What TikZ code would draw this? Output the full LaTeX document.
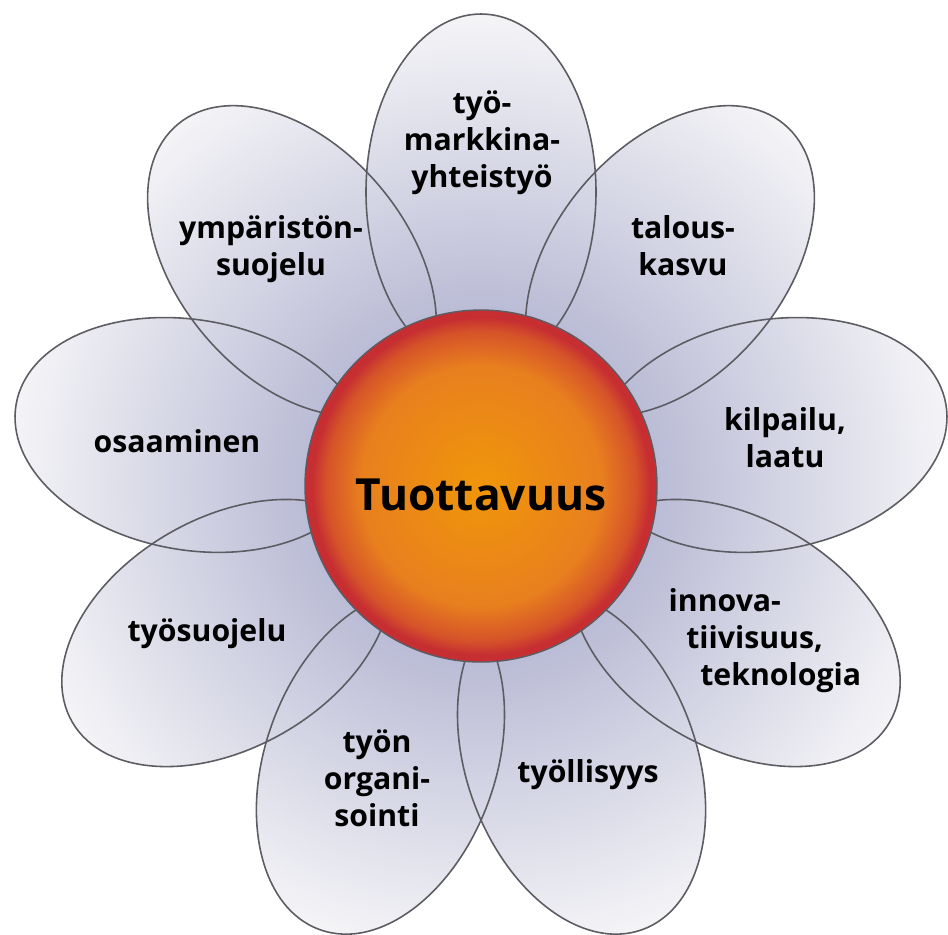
\documentclass[tikz,border=0pt]{standalone}
\usepackage{fontspec}
\setmainfont{Open Sans}
\definecolor{petalin}{RGB}{186,187,213}
\definecolor{petalout}{RGB}{246,246,248}
\definecolor{petalline}{RGB}{92,92,98}
\definecolor{hubcore}{RGB}{240,150,10}
\definecolor{hubmid}{RGB}{232,128,30}
\definecolor{hubrim}{RGB}{198,46,50}
\pgfdeclareradialshading{petalglow}{\pgfpoint{0bp}{0bp}}{color(0bp)=(petalin); color(9bp)=(petalin); color(17bp)=(petalin!50!petalout); color(25bp)=(petalout); color(50bp)=(petalout)}
\pgfdeclareradialshading{hubglow}{\pgfpoint{0bp}{0bp}}{color(0bp)=(hubcore); color(17bp)=(hubmid); color(22bp)=(hubrim!55!hubmid); color(24bp)=(hubrim); color(50bp)=(hubrim)}
\begin{document}
\begin{tikzpicture}[
    petal/.style={draw=petalline, line width=0.45pt},
    hub/.style={circle, draw=petalline, line width=0.4pt, shade, shading=hubglow, minimum size=3.52cm, inner sep=0pt},
    hubtext/.style={font=\fontsize{12.6}{15}\selectfont\bfseries, inner sep=0pt},
    petaltext/.style={font=\fontsize{8.6}{10.5}\selectfont\bfseries, align=center, inner sep=0pt}
  ]
  \useasboundingbox (-4.81,-4.48) rectangle (4.67,4.86);
  % pétalos
  \begin{scope}
    \clip \foreach \a in {90,50,...,-230} { (\a:2.94) circle [x radius=1.78, y radius=1.15, rotate=\a] };
    \shade[shading=petalglow] (0,0) circle (4.8);
  \end{scope}
  \foreach \a in {90,50,...,-230}
    \draw[petal] (\a:2.94) circle [x radius=1.78, y radius=1.15, rotate=\a];
  % centro
  \node[hub] (hub) at (0,0) {};
  \node[hubtext] (title) at ([yshift=-0.085cm]hub.center) {Tuottavuus};
  % etiquetas
  \node[petaltext] (markkina) at (0.01,3.43) {työ-\\markkina-\\yhteistyö};
  \node[petaltext] (ymparisto) at (-2.10,2.37) {ympäristön-\\suojelu};
  \node[petaltext] (talous) at (2.02,2.40) {talous-\\kasvu};
  \node[petaltext] (kilpailu) at (3.04,0.48) {kilpailu,\\laatu};
  \node[petaltext, anchor=west, align=left] (innovaatio) at (1.87,-1.55) {innova-\\\hspace{5pt}tiivisuus,\\\hspace{9pt}teknologia};
  \node[petaltext] (tyollisyys) at (1.07,-2.89) {työllisyys};
  \node[petaltext] (organisointi) at (-1.04,-2.92) {työn\\organi-\\sointi};
  \node[petaltext] (tyosuojelu) at (-2.74,-1.48) {työsuojelu};
  \node[petaltext] (osaaminen) at (-3.04,0.45) {osaaminen};
\end{tikzpicture}
\end{document}
